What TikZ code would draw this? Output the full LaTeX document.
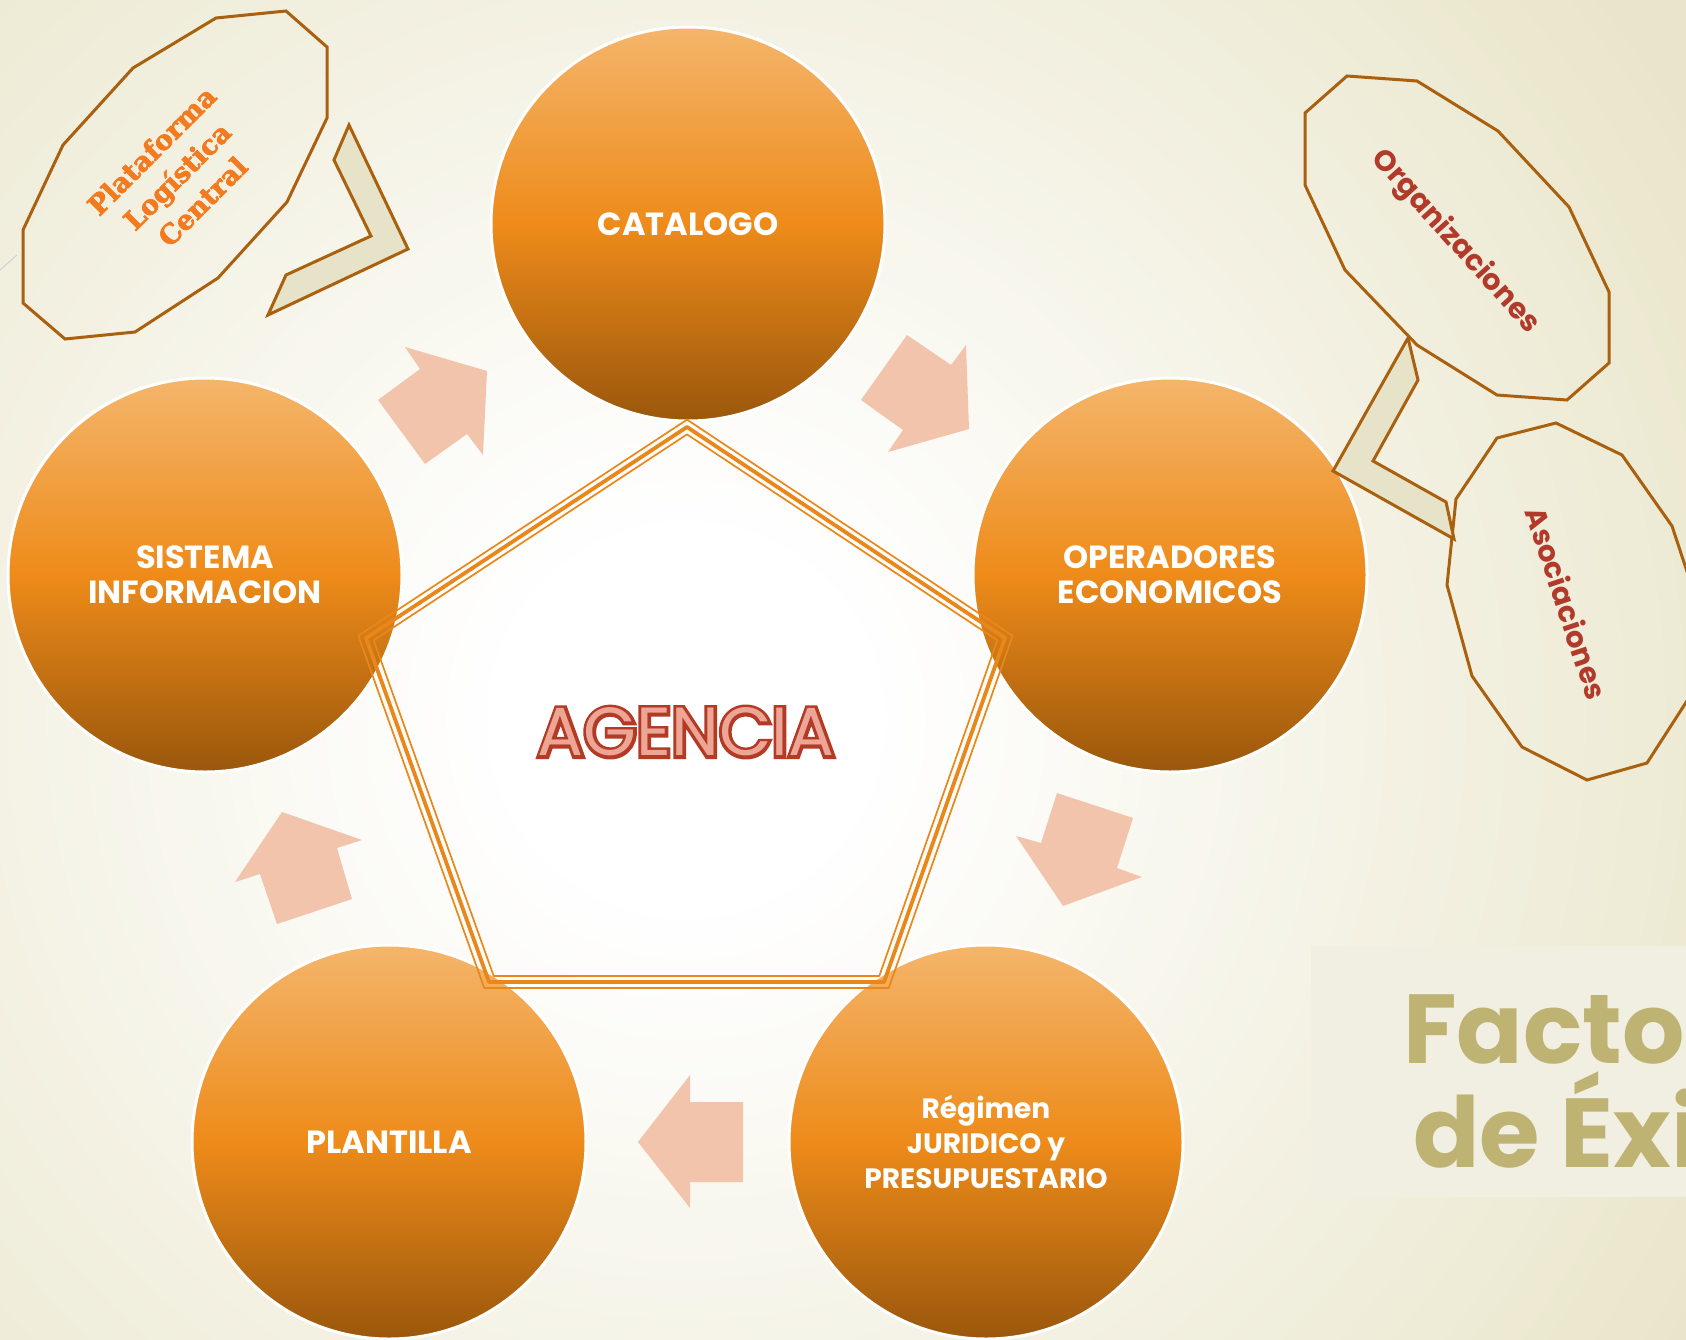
\documentclass[tikz,border=0pt]{standalone}
\usepackage{fontspec}
\setmainfont{Poppins}
\newfontfamily\slabfont{DejaVu Serif}[BoldFeatures={FakeBold=2.5}]
\newfontfamily\agoutline{Poppins}[FakeBold=9.5]
\usetikzlibrary{calc}
\definecolor{bgcol}{HTML}{E9E5CA}
\definecolor{circtop}{HTML}{F4B56B}
\definecolor{circmid}{HTML}{EE8B1A}
\definecolor{circbot}{HTML}{9A570C}
\definecolor{arrowcol}{HTML}{F2C4AC}
\definecolor{pentcol}{HTML}{E9871A}
\definecolor{calloutline}{HTML}{A9600F}
\definecolor{chevfill}{HTML}{E7E3C8}
\definecolor{platcol}{HTML}{F47A1F}
\definecolor{orgred}{HTML}{B23A2B}
\definecolor{agred}{HTML}{B33A25}
\definecolor{agpink}{HTML}{EDA596}
\definecolor{factcol}{HTML}{BEB372}
\definecolor{factbox}{HTML}{F1EEE2}
\begin{document}
\begin{tikzpicture}[x=1pt,y=-1pt,
  circ/.style={circle, minimum size=394pt, inner sep=0pt, top color=circtop, bottom color=circbot, middle color=circmid, draw=white, line width=3pt, text=white, font=\bfseries\fontsize{32}{35}\selectfont, align=center},
  blockarrow/.style={fill=arrowcol, draw=none},
  callout/.style={draw=calloutline, line width=3pt, line join=miter},
  chevron/.style={draw=calloutline, fill=chevfill, line width=3pt, line join=miter},
  agtext/.style={inner sep=0pt, font=\fontsize{68}{68}\selectfont},
  sidetext/.style={text=orgred, inner sep=0pt, font=\bfseries\fontsize{29}{30}\selectfont},
  facttext/.style={text=factcol, inner sep=0pt, anchor=base west, font=\bfseries\fontsize{98}{100}\selectfont}
]
\useasboundingbox (0,0) rectangle (1686,1339);
\clip (0,0) rectangle (1686,1339);
% background: beige edges, white glow in the centre
\fill[bgcol] (0,0) rectangle (1686,1339);
\foreach \r in {1200,1180,...,200} {
  \pgfmathtruncatemacro{\f}{max(0,min(100,(\r-200)/10))}
  \fill[bgcol!\f!white] (686,720) circle (\r);
}
\draw[gray!35, line width=1pt] (0,270) -- (17,255);
% Factor box
\fill[factbox] (1311,946) rectangle (1700,1197);
\node[facttext] (fac1) at (1403,1063) {Factor};
\node[facttext] (fac2) at (1413,1167) {de Éxi};
% block arrows
\fill[blockarrow] (405,347) -- (487,371) -- (483,455) -- (467,434) -- (425,464) -- (378,400) -- (420,369) -- cycle;
\fill[blockarrow] (907,335) -- (951,365) -- (966,345) -- (969,429) -- (888,452) -- (903,430) -- (861,400) -- cycle;
\fill[blockarrow] (1057,793) -- (1133,818) -- (1117,868) -- (1142,877) -- (1063,906) -- (1016,836) -- (1041,843) -- cycle;
\fill[blockarrow] (638,1142) -- (690,1075) -- (690,1102) -- (743,1102) -- (743,1182) -- (690,1182) -- (690,1208) -- cycle;
\fill[blockarrow] (282,812) -- (362,840) -- (337,848) -- (352,899) -- (277,924) -- (260,874) -- (235,882) -- cycle;
% circles
\node[circ] (cat) at (688,224) {CATALOGO};
\node[circ] (ope) at (1170,575) {OPERADORES\\ECONOMICOS};
\node[circ] (sis) at (205,575) {SISTEMA\\INFORMACION};
\node[circ] (pla) at (389,1142) {PLANTILLA};
\node[circ, font=\bfseries\fontsize{28}{35}\selectfont] (reg) at (986,1142) {Régimen\\JURIDICO y\\PRESUPUESTARIO};
% pentagon (triple line)
\coordinate (pc) at (686,734);
\coordinate (pt) at (687,427);
\coordinate (pr) at (1005,638);
\coordinate (pbr) at (884,982);
\coordinate (pbl) at (489,982);
\coordinate (pl) at (366,638);
\draw[pentcol, line width=3.8pt, line join=round] (pt) -- (pr) -- (pbr) -- (pbl) -- (pl) -- cycle;
\draw[pentcol, line width=1.7pt, line join=round] ($(pc)!1.024!(pt)$) -- ($(pc)!1.024!(pr)$) -- ($(pc)!1.024!(pbr)$) -- ($(pc)!1.024!(pbl)$) -- ($(pc)!1.024!(pl)$) -- cycle;
\draw[pentcol, line width=1.7pt, line join=round] ($(pc)!0.976!(pt)$) -- ($(pc)!0.976!(pr)$) -- ($(pc)!0.976!(pbr)$) -- ($(pc)!0.976!(pbl)$) -- ($(pc)!0.976!(pl)$) -- cycle;
% AGENCIA outlined text
\coordinate (agc) at (686,732);
\node[agtext, text=agred, font=\agoutline\fontsize{68}{68}\selectfont] (agback) at (agc) {AGENCIA};
\node[agtext, text=agpink] (agencia) at (agc) {AGENCIA};
% top-left callout
\draw[callout] (286,11) -- (327,47) -- (327,118) -- (287,202) -- (218,278) -- (135,332) -- (65,339) -- (23,303) -- (23,230) -- (63,145) -- (133,68) -- (216,18) -- cycle;
\draw[chevron] (349,125) -- (408,249) -- (268,315) -- (286,275) -- (371,236) -- (334,160) -- cycle;
\node[rotate=45, text=platcol, inner sep=0pt, align=center, font=\slabfont\bfseries\fontsize{27}{36}\selectfont] (plat) at (177,176) {Plataforma\\Logística\\Central};
% top-right callouts
\draw[callout] (1347,76) -- (1417,81) -- (1498,131) -- (1569,207) -- (1609,292) -- (1609,363) -- (1567,400) -- (1497,395) -- (1417,345) -- (1345,270) -- (1305,185) -- (1305,113) -- cycle;
\draw[callout] (1497,438) -- (1556,423) -- (1622,455) -- (1672,526) -- (1698,605) -- (1694,690) -- (1647,763) -- (1587,780) -- (1522,747) -- (1472,676) -- (1447,585) -- (1456,499) -- cycle;
\draw[chevron] (1408,338) -- (1418,380) -- (1373,461) -- (1446,502) -- (1454,539) -- (1333,471) -- cycle;
\node[sidetext, rotate=-48] (org) at (1455,242) {Organizaciones};
\node[sidetext, rotate=-71.5] (aso) at (1567,603) {Asociaciones};
\end{tikzpicture}
\end{document}
